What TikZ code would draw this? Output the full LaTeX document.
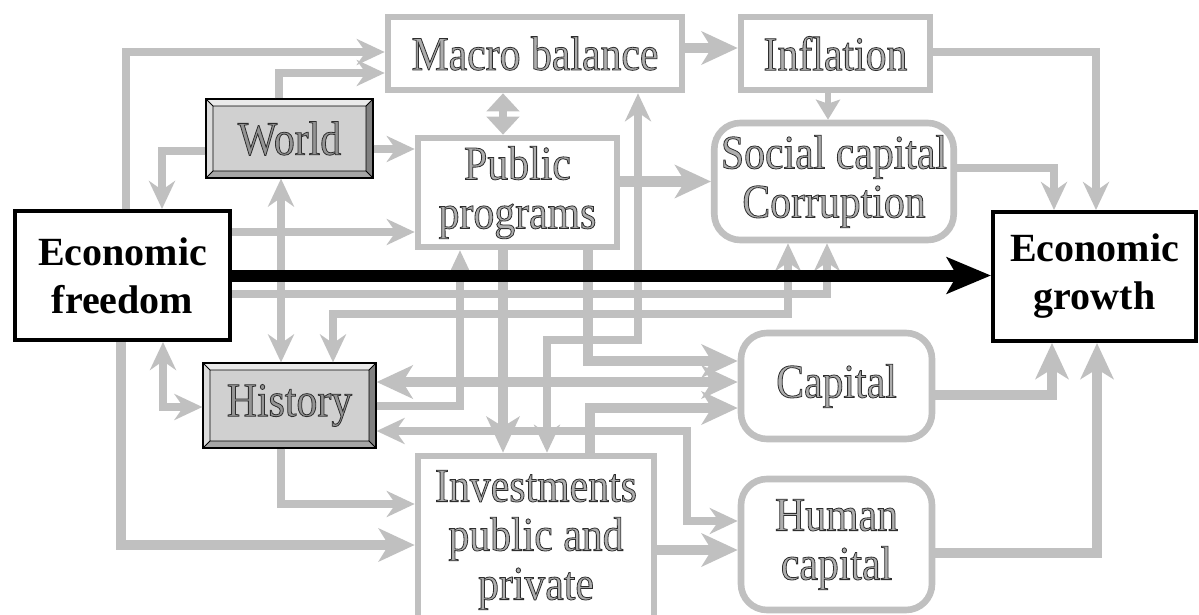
\documentclass[tikz,border=0pt]{standalone}
\usepackage{fontspec}
\setmainfont{Liberation Serif}
\newfontfamily\narrowserif[FakeStretch=0.87]{Liberation Serif}
\usepackage{tikz}
\usetikzlibrary{arrows.meta,positioning}
\definecolor{linkGray}{HTML}{C0C0C0}
\definecolor{faceGray}{HTML}{D0D0D0}
\definecolor{bevelTop}{HTML}{EAEAEA}
\definecolor{bevelLeft}{HTML}{DCDCDC}
\definecolor{bevelRight}{HTML}{808080}
\definecolor{bevelBottom}{HTML}{A6A6A6}
% outlined lettering: gray fill, dark stroke
\newcommand{\hollowon}[1]{\special{pdf:bcolor [#1] [0.18]}\special{pdf:literal direct 2 Tr 0.4 w}}
\newcommand{\hollowoff}{\special{pdf:literal direct 0 Tr}\special{pdf:ecolor}}
\tikzset{
  gtip/.tip={Stealth[length=14pt,width=13pt,inset=4.5pt]},
  gfattip/.tip={Stealth[length=18pt,width=16.5pt,inset=5pt]},
  gbox/.style={draw=linkGray,line width=3.3pt,fill=white,align=center,
    font=\fontsize{24}{24.5}\narrowserif,
    execute at begin node={\hollowon{0.68}},execute at end node={\hollowoff}},
  gsoft/.style={gbox,rounded corners=13pt},
  kbox/.style={draw=black,line width=2pt,fill=white,align=center,
    font=\fontsize{20}{24}\selectfont\bfseries},
  bevel/.style={draw=black,line width=0.6pt,fill=faceGray,
    font=\fontsize{24}{24.5}\narrowserif,
    execute at begin node={\hollowon{0.58}},execute at end node={\hollowoff},
    path picture={
      \path (path picture bounding box.north west) coordinate (pnw)
            (path picture bounding box.north east) coordinate (pne)
            (path picture bounding box.south west) coordinate (psw)
            (path picture bounding box.south east) coordinate (pse);
      \fill[bevelTop] (pnw) -- (pne) -- ([shift={(-3.5pt,-3.5pt)}]pne) -- ([shift={(3.5pt,-3.5pt)}]pnw) -- cycle;
      \fill[bevelLeft] (pnw) -- ([shift={(3.5pt,-3.5pt)}]pnw) -- ([shift={(3.5pt,3.5pt)}]psw) -- (psw) -- cycle;
      \fill[bevelRight] (pne) -- (pse) -- ([shift={(-3.5pt,3.5pt)}]pse) -- ([shift={(-3.5pt,-3.5pt)}]pne) -- cycle;
      \fill[bevelBottom] (psw) -- (pse) -- ([shift={(-3.5pt,3.5pt)}]pse) -- ([shift={(3.5pt,3.5pt)}]psw) -- cycle;
      \draw[line width=0.4pt] ([shift={(3.5pt,-3.5pt)}]pnw) rectangle ([shift={(-3.5pt,3.5pt)}]pse)
        (pnw) -- ++(3.5pt,-3.5pt) (pne) -- ++(-3.5pt,-3.5pt)
        (psw) -- ++(3.5pt,3.5pt) (pse) -- ++(-3.5pt,3.5pt);
    }},
  gflow/.style={draw=linkGray,line width=4pt,-gtip},
  gboth/.style={gflow,gtip-gtip},
  gfat/.style={draw=linkGray,line width=5.25pt,-gfattip},
  gfatboth/.style={gfat,gfattip-gfattip},
  gdiam/.style={draw=linkGray,line width=4pt,
    {Stealth[length=9pt,width=16pt,inset=0pt]}-{Stealth[length=9pt,width=16pt,inset=0pt]}},
  gsmall/.style={draw=linkGray,line width=3pt,-{Stealth[length=10pt,width=12pt,inset=2pt]}},
  kflow/.style={draw=black,line width=6pt,-{Stealth[length=22pt,width=18pt,inset=5pt]}},
}
\begin{document}
\begin{tikzpicture}[x=0.5pt,y=-0.5pt]
\useasboundingbox (0,0) rectangle (1199,615);
\clip (0,0) rectangle (1199,615);
% boxes
\node[gbox,minimum width=147pt,minimum height=36.5pt] (macro) at (535,53.5) {Macro balance};
\node[gbox,minimum width=94.5pt,minimum height=36.5pt,right=26.2pt of macro] (infl) {Inflation};
\node[bevel,minimum width=83.5pt,minimum height=39.5pt] (world) at (289.5,138.5) {World};
\node[gbox,minimum width=99.5pt,minimum height=54.5pt] (pubprog) at (517.5,192.5) {Public\\programs};
\node[gsoft,minimum width=118pt,minimum height=58.5pt] (social) at (834,181.5) {Social capital\\Corruption};
\node[kbox,minimum width=107.5pt,minimum height=64.5pt] (efree) at (122.5,275.5) {Economic\\freedom};
\node[kbox,minimum width=101.5pt,minimum height=64.5pt] (egrowth) at (1094.5,276.5) {Economic\\growth};
\node[bevel,minimum width=86.5pt,minimum height=42.5pt] (hist) at (289.5,405.5) {History};
\node[gsoft,minimum width=95.5pt,minimum height=53pt] (cap) at (836.5,386) {Capital};
\node[gsoft,minimum width=95.5pt,minimum height=65.5pt,below=16.7pt of cap] (hcap) {Human\\capital};
\node[gbox,minimum width=118pt,minimum height=84pt] (invest) at (536,540) {Investments\\public and\\private};
% links round the top
\draw[gflow] (efree.north -| 126,0) |- (macro.west |- 0,52);
\draw[gflow] (world.north -| 279,0) |- (macro.west |- 0,73);
\draw[gflow] (world.west |- 0,151) -| (efree.north -| 162,0);
\draw[gflow] (world.east |- 0,149) -- (pubprog.west |- 0,149);
\draw[gflow] (efree.east |- 0,232) -- (pubprog.west |- 0,232);
\draw[gdiam] (macro.south -| 503,0) -- (pubprog.north -| 503,0);
\draw[gfat] (macro.east |- 0,48) -- (infl.west |- 0,48);
\draw[gsmall] (infl.south -| 828,0) -- (social.north -| 828,0);
\draw[gflow] (infl.east |- 0,52) -| (egrowth.north -| 1096,0);
\draw[gflow] (social.east |- 0,168) -| (egrowth.north -| 1054,0);
\draw[gfat] (pubprog.east |- social.west) -- (social.west);
% middle bundle
\draw[gboth] (macro.south -| 638,0) -- (638,340) -| (invest.north -| 547,0);
\draw[gfat] (pubprog.south -| 503,0) -- (invest.north -| 503,0);
\draw[gfat] (pubprog.south -| 588,0) |- (cap.west |- 0,361);
\draw[gflow] (hist.east |- 0,406) -| (pubprog.south -| 460,0);
\draw[gfatboth] (hist.east |- 0,382) -- (cap.west |- 0,382);
\draw[gboth] (hist.east |- 0,431) -- (687,431) |- (hcap.west |- 0,521);
\draw[gfat] (invest.north -| 590,0) |- (cap.west |- 0,408);
\draw[gflow] (efree.east |- 0,294) -| (social.south -| 827,0);
\draw[gboth] (hist.north -| 333,0) -- (333,314) -| (social.south -| 788,0);
% left side
\draw[gboth] (world.south -| 281,0) -- (hist.north -| 281,0);
\draw[gboth] (efree.south -| 163,0) |- (hist.west |- 0,407);
\draw[gflow] (hist.south -| 281,0) |- (invest.west |- 0,504);
\draw[gfat] (efree.south -| 121,0) |- (invest.west |- 0,545);
% into growth
\draw[gfat] (invest.east |- 0,550) -- (hcap.west |- 0,550);
\draw[gfat] (cap.east |- 0,395) -| (egrowth.south -| 1052,0);
\draw[gfat] (hcap.east |- 0,553) -| (egrowth.south -| 1097,0);
\draw[kflow] (efree.east) -- (egrowth.west |- efree.east);
\end{tikzpicture}
\end{document}
